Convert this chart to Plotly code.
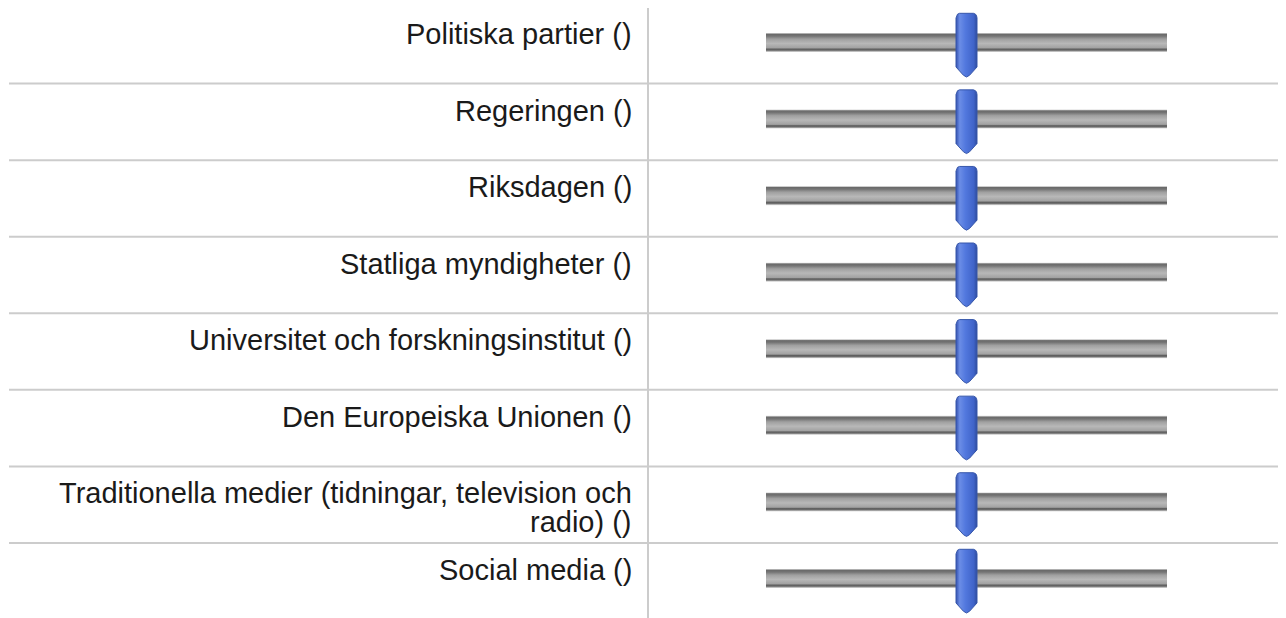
import plotly.graph_objects as go

# ---- data ----
labels = [
    "Politiska partier ()",
    "Regeringen ()",
    "Riksdagen ()",
    "Statliga myndigheter ()",
    "Universitet och forskningsinstitut ()",
    "Den Europeiska Unionen ()",
    "Traditionella medier (tidningar, television och<br>radio) ()",
    "Social media ()",
]
values = [50, 50, 50, 50, 50, 50, 50, 50]
scale_min = 0
scale_max = 100

# ---- layout geometry (page pixels; the page body adds an 8px offset) ----
OFF = 8
W, H = 1286 - OFF, 618 - OFF
TOP = 7.0 - OFF
ROW_H = 76.57
TRACK_X0, TRACK_X1 = 766 - OFF, 1167 - OFF
LABEL_RIGHT = 634 - OFF
DIVIDER_X = 648 - OFF
LINE_X0 = 9 - OFF
FONT_SIZE = 29
LINE_GAP = 29
TEXT_DY = 27

n = len(labels)
uy = 1.0 / ROW_H
ux = (scale_max - scale_min) / (TRACK_X1 - TRACK_X0)
y_top = -0.5 - TOP * uy
y_bot = -0.5 + (H - TOP) * uy

fig = go.Figure()

track_scale = [
    [0.0, "#dadada"], [0.07, "#6a6a6a"], [0.16, "#747474"], [0.32, "#a0a0a0"],
    [0.55, "#b8b8b8"], [0.78, "#a2a2a2"], [0.85, "#5e5e5e"], [0.91, "#6c6c6c"],
    [1.0, "#e2e2e2"],
]
thumb_scale = [
    [0.0, "#3552b0"], [0.18, "#6b8de6"], [0.45, "#5278de"], [0.85, "#3f63c8"],
    [1.0, "#2e4c9c"],
]

thumb_shape = [(-10.5, 11), (-10, 8.6), (-9, 7.2), (-7, 6.3), (7, 6.3), (9, 7.2),
               (10, 8.6), (10.5, 11), (10.5, 60), (3, 68.3), (0, 70), (-3, 68.3),
               (-10.5, 60), (-10.5, 11)]

for i, (lab, v) in enumerate(zip(labels, values)):
    rt = i - 0.5
    t0 = rt + 26 * uy
    t1 = rt + 45 * uy
    fig.add_trace(go.Scatter(
        x=[scale_min, scale_max, scale_max, scale_min, scale_min],
        y=[t0, t0, t1, t1, t0],
        mode="lines", line=dict(width=0), fill="toself",
        fillgradient=dict(type="vertical", colorscale=track_scale, start=t0, stop=t1),
        hoverinfo="skip", showlegend=False,
    ))
    xs = [v + dx * ux for dx, dy in thumb_shape]
    ys = [rt + dy * uy for dx, dy in thumb_shape]
    fig.add_trace(go.Scatter(
        x=xs, y=ys, mode="lines", line=dict(width=1, color="#3757aa"), fill="toself",
        fillgradient=dict(type="horizontal", colorscale=thumb_scale,
                          start=v - 10.5 * ux, stop=v + 10.5 * ux),
        hoverinfo="text", text=f"{lab}: {v}", showlegend=False,
    ))
    for k, line in enumerate(lab.split("<br>")):
        fig.add_annotation(
            x=LABEL_RIGHT / W, xref="paper", xanchor="right",
            y=rt + (TEXT_DY + LINE_GAP * k) * uy, yref="y", yanchor="middle",
            text=line, showarrow=False,
            font=dict(family="Arial, Liberation Sans, sans-serif", size=FONT_SIZE, color="#1a1a1a"),
        )

shapes = []
for i in range(n):
    shapes.append(dict(type="line", xref="paper", yref="y", x0=LINE_X0 / W, x1=1,
                       y0=i - 0.5, y1=i - 0.5, line=dict(color="#cccccc", width=2)))
shapes.append(dict(type="line", xref="paper", yref="y", x0=DIVIDER_X / W, x1=DIVIDER_X / W,
                   y0=-0.5, y1=y_bot, line=dict(color="#cccccc", width=2)))

fig.update_layout(
    width=W, height=H, margin=dict(l=0, r=0, t=0, b=0),
    paper_bgcolor="white", plot_bgcolor="white",
    xaxis=dict(domain=[TRACK_X0 / W, TRACK_X1 / W], range=[scale_min, scale_max],
               visible=False, fixedrange=True),
    yaxis=dict(range=[y_bot, y_top], visible=False, fixedrange=True),
    shapes=shapes, showlegend=False,
)

fig.write_html("out.html")
